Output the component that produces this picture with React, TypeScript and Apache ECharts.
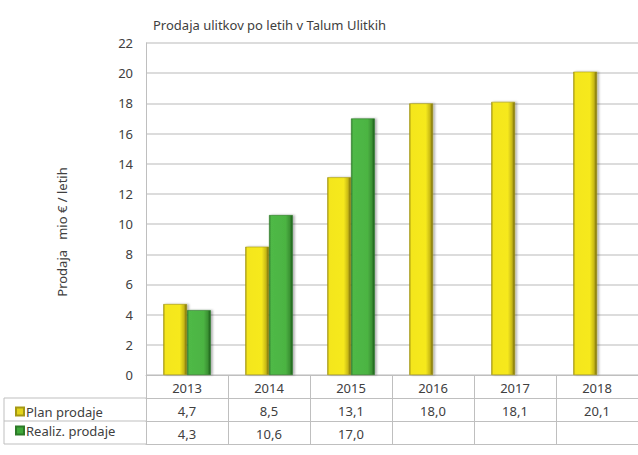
import React, { useEffect, useRef } from "react";
import * as echarts from "echarts";

const years = ["2013", "2014", "2015", "2016", "2017", "2018"];
const planValues = [4.7, 8.5, 13.1, 18.0, 18.1, 20.1];
const realizValues: (number | null)[] = [4.3, 10.6, 17.0, null, null, null];
const seriesNames = ["Plan prodaje", "Realiz. prodaje"];
const yTicks = { min: 0, max: 22, interval: 2 };
const titleText = "Prodaja ulitkov po letih v Talum Ulitkih";
const yAxisName = "Prodaja   mio € / letih";

const fmt = (v: number | null) => (v == null ? "" : v.toFixed(1).replace(".", ","));

export default function App() {
  const ref = useRef<HTMLDivElement>(null);
  useEffect(() => {
    if (!ref.current) return;
    const chart = echarts.init(ref.current, undefined, { renderer: "svg" });
    const font = "Noto Sans";
    const lineColor = "#bfbfbf";
    const textColor = "#404040";
    const yellow = new echarts.graphic.LinearGradient(0, 0, 1, 0, [
      { offset: 0, color: "#a89a18" },
      { offset: 0.08, color: "#f4e61c" },
      { offset: 0.7, color: "#f6e91f" },
      { offset: 0.88, color: "#c9ba16" },
      { offset: 1, color: "#6f6508" },
    ]);
    const green = new echarts.graphic.LinearGradient(0, 0, 1, 0, [
      { offset: 0, color: "#2f7d2a" },
      { offset: 0.08, color: "#4fb946" },
      { offset: 0.7, color: "#4cb443" },
      { offset: 0.88, color: "#3b9434" },
      { offset: 1, color: "#1f5a1b" },
    ]);
    const catAxisBase = {
      type: "category" as const,
      position: "bottom" as const,
      gridIndex: 0,
      axisLine: { show: true, lineStyle: { color: lineColor, width: 1 } },
      axisTick: { show: false },
      axisLabel: { color: textColor, fontSize: 13, margin: 6, fontFamily: font },
    };
    chart.setOption({
      animation: false,
      textStyle: { fontFamily: font },
      title: {
        text: titleText,
        left: 148,
        top: 13,
        textStyle: { fontSize: 13, fontWeight: "normal", color: textColor, fontFamily: font },
      },
      legend: {
        orient: "vertical",
        left: 10,
        top: 400,
        itemWidth: 8,
        itemHeight: 8,
        itemGap: 6,
        icon: "rect",
        textStyle: { fontSize: 13, color: textColor, padding: [0, 0, 0, -3] },
        data: [
          { name: seriesNames[0], itemStyle: { color: "#e2d41a" } },
          { name: seriesNames[1], itemStyle: { color: "#3fa83a" } },
        ],
      },
      grid: { left: 146, right: 0, top: 43, bottom: 80 },
      xAxis: [
        {
          ...catAxisBase,
          data: years,
          axisTick: { show: true, length: 69, lineStyle: { color: lineColor } },
        },
        { ...catAxisBase, data: planValues.map(fmt), offset: 23 },
        { ...catAxisBase, data: realizValues.map(fmt), offset: 46 },
        { ...catAxisBase, data: years, offset: 69, axisLabel: { show: false } },
      ],
      yAxis: {
        type: "value",
        min: yTicks.min,
        max: yTicks.max,
        interval: yTicks.interval,
        axisLine: { show: true, lineStyle: { color: lineColor } },
        axisTick: { show: false },
        axisLabel: { color: textColor, fontSize: 13, margin: 13 },
        splitLine: { lineStyle: { color: "#d0d0d0", width: 1.5 } },
      },
      series: [
        {
          name: seriesNames[0],
          type: "bar",
          xAxisIndex: 0,
          data: planValues,
          barGap: "0%",
          barCategoryGap: "42%",
          itemStyle: {
            color: yellow,
            borderColor: "#a59914",
            borderWidth: 0.6,
            shadowColor: "rgba(0,0,0,0.3)",
            shadowBlur: 2,
            shadowOffsetX: 2,
            shadowOffsetY: 0,
          },
        },
        {
          name: seriesNames[1],
          type: "bar",
          xAxisIndex: 0,
          data: realizValues.map((v) => (v == null ? "-" : v)),
          barGap: "0%",
          barCategoryGap: "42%",
          itemStyle: {
            color: green,
            borderColor: "#2d7a28",
            borderWidth: 0.6,
            shadowColor: "rgba(0,0,0,0.3)",
            shadowBlur: 2,
            shadowOffsetX: 2,
            shadowOffsetY: 0,
          },
        },
      ],
      graphic: [
        {
          type: "text",
          x: 62,
          y: 232,
          rotation: Math.PI / 2,
          style: {
            text: yAxisName,
            fontSize: 13,
            fill: textColor,
            fontFamily: font,
            align: "center",
            verticalAlign: "middle",
          },
        },
        { type: "line", shape: { x1: 4, y1: 398, x2: 146, y2: 398 }, style: { stroke: lineColor, lineWidth: 1 } },
        { type: "line", shape: { x1: 4, y1: 421, x2: 146, y2: 421 }, style: { stroke: lineColor, lineWidth: 1 } },
        { type: "line", shape: { x1: 4, y1: 444, x2: 146, y2: 444 }, style: { stroke: lineColor, lineWidth: 1 } },
        { type: "line", shape: { x1: 4, y1: 398, x2: 4, y2: 444 }, style: { stroke: lineColor, lineWidth: 1 } },
      ],
    });
    return () => chart.dispose();
  }, []);
  return <div ref={ref} style={{ width: 638, height: 455, position: "absolute", left: 0, top: 0 }} />;
}
